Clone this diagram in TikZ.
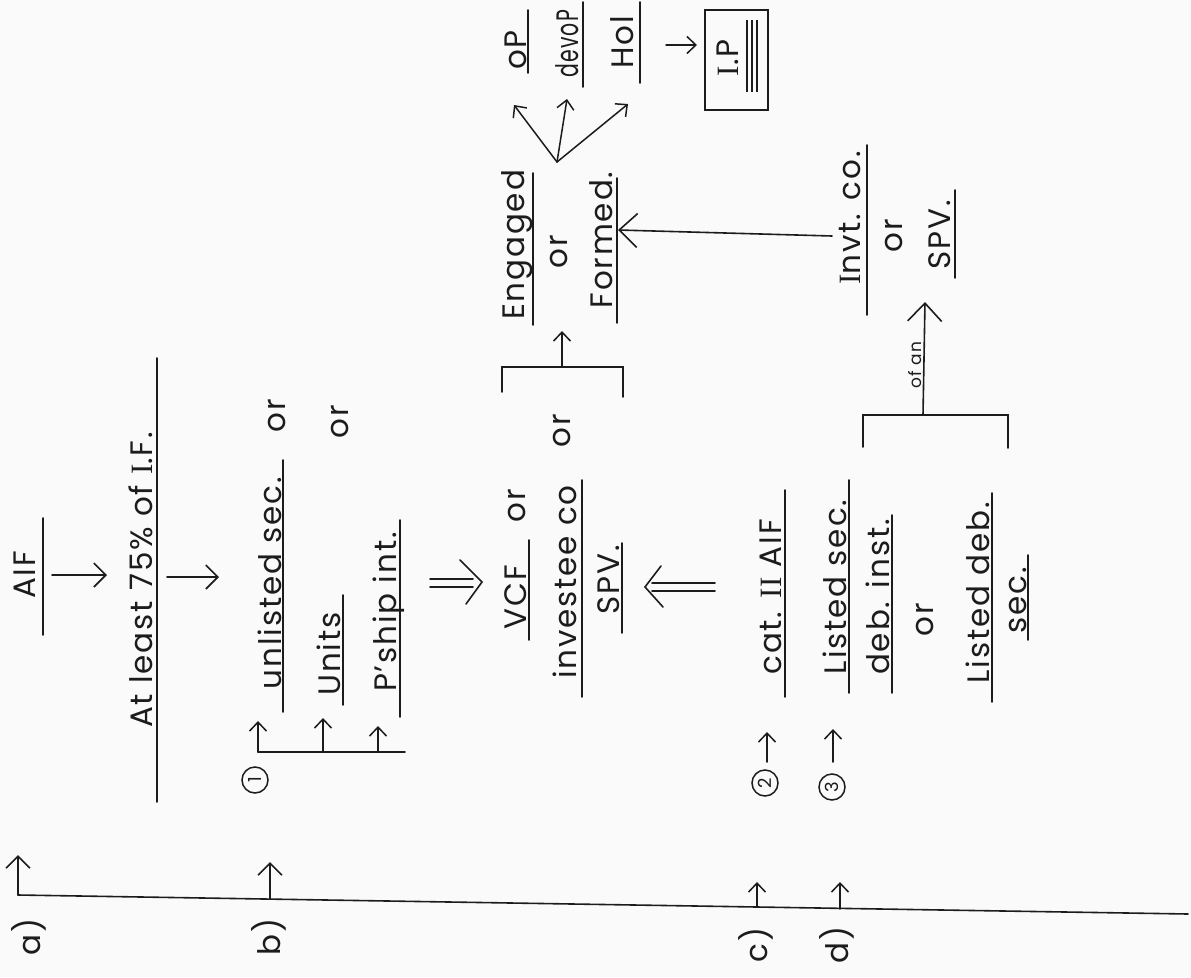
\documentclass[tikz,border=0pt]{standalone}
\usepackage{fontspec}
\setmainfont{Poppins}[LetterSpace=6]
\newfontfamily\serifI{Liberation Serif}
\usetikzlibrary{arrows.meta}
\definecolor{ink}{HTML}{1C1C1C}
\definecolor{paper}{HTML}{FAFAFA}
\tikzset{
  hw/.style={rotate=90, anchor=base, inner sep=1pt, text=ink, font=\fontsize{31}{34}\selectfont},
  hwsmall/.style={hw, font=\fontsize{17}{19}\selectfont},
  ul/.style={draw=ink, line width=1.6pt, line cap=round},
  arr/.style={draw=ink, line width=1.6pt, line cap=round, -{Straight Barb[length=12pt,width=24pt,line width=1.6pt]}},
  sarr/.style={draw=ink, line width=1.5pt, line cap=round, -{Straight Barb[length=9pt,width=17pt,line width=1.5pt]}},
  barr/.style={draw=ink, line width=1.6pt, line cap=round, -{Straight Barb[length=18pt,width=34pt,line width=1.6pt]}},
  circnum/.style={circle, draw=ink, line width=1.5pt, inner sep=0pt, minimum size=26pt, rotate=90, text=ink, font=\fontsize{18}{18}\selectfont},
}
\begin{document}
\begin{tikzpicture}[x=1pt,y=-1pt]
\fill[paper] (0,0) rectangle (1191,977);
\useasboundingbox (0,0) rectangle (1191,977);

% ---------- text nodes ----------
\node[hw] (aif)   at (35,575)  {AIF};
\node[hw] (atl)   at (152,580) {At least 75\% of {\serifI I}.F.};
\node[hw] (unl)   at (281,583) {unlisted sec.};
\node[hw] (or1)   at (285,416) {or};
\node[hw] (units) at (340,654) {Units};
\node[hw] (or2)   at (348,422) {or};
\node[hw] (pship) at (396,612) {P'ship int.};
\node[hw] (vcf)   at (526,597) {VCF};
\node[hw] (vcfor) at (525,506) {or};
\node[hw] (inv)   at (576,582) {investee co};
\node[hw] (invor) at (570,431) {or};
\node[hw] (spv)   at (619,580) {SPV.};
\node[hw] (cat)   at (781,597) {cat. {\serifI II} AIF};
\node[hw] (ls)    at (846,587) {Listed sec.};
\node[hw] (deb)   at (889,597) {deb. inst.};
\node[hw] (or3)   at (933,620) {or};
\node[hw] (ld)    at (989,593) {Listed deb.};
\node[hw] (sec)   at (1026,600) {sec.};
\node[hw] (invt)  at (860,218) {{\serifI I}nvt. co.};
\node[hw] (or4)   at (902,236) {or};
\node[hw] (spvb)  at (950,235) {SPV.};
\node[hw] (eng)   at (524,245) {Engaged};
\node[hw] (or5)   at (567,252) {or};
\node[hw] (frm)   at (612,240) {Formed.};
\node[hw] (op)    at (526,50)  {oP};
\node[hw] (devop) at (578,44)  {\scalebox{0.66}[1]{devoP}};
\node[hw] (hol)   at (633,42)  {Hol};
\node[hw] (ip)    at (738,58)  {{\serifI I}.P};
\node[hwsmall] (ofan) at (921,365) {of an};
\node[hw] (la) at (40,937)  {a)};
\node[hw] (lb) at (280,937) {b)};
\node[hw] (lc) at (767,945) {c)};
\node[hw] (ld2) at (848,945) {d)};
\node[circnum] (c1) at (255,780) {1};
\node[circnum] (c2) at (765,783) {2};
\node[circnum] (c3) at (832,787) {3};

% ---------- underlines ----------
\draw[ul] (43,518) -- (43,635);
\draw[ul] (157,358) -- (157,802);
\draw[ul] (283,460) -- (283,712);
\draw[ul] (343,595) -- (343,705);
\draw[ul] (400,520) -- (400,717);
\draw[ul] (529,540) -- (529,640);
\draw[ul] (582,480) -- (582,697);
\draw[ul] (622,543) -- (622,633);
\draw[ul] (785,490) -- (785,697);
\draw[ul] (849,480) -- (849,693);
\draw[ul] (892,515) -- (892,693);
\draw[ul] (992,493) -- (992,702);
\draw[ul] (1028,555) -- (1028,640);
\draw[ul] (867,145) -- (867,315);
\draw[ul] (955,190) -- (955,278);
\draw[ul] (533,173) -- (533,325);
\draw[ul] (617,178) -- (617,323);
\draw[ul] (528,10) -- (528,73);
\draw[ul] (583,2) -- (583,87);
\draw[ul] (640,2) -- (640,83);

% ---------- coordinates ----------
\coordinate (t0) at (18,895);
\coordinate (t1) at (1188,914);
\coordinate (ta) at (18,855);
\coordinate (bb) at (270,899);
\coordinate (tb) at (270,862);
\coordinate (cc) at (757,907);
\coordinate (tc) at (757,882);
\coordinate (dd) at (840,909);
\coordinate (td) at (840,882);

\coordinate (a1) at (52,575);  \coordinate (a2) at (107,575);
\coordinate (a3) at (167,577); \coordinate (a4) at (219,577);

\coordinate (br1) at (258,752); \coordinate (br2) at (323,752);
\coordinate (br3) at (378,752); \coordinate (br4) at (405,752);
\coordinate (tp1) at (258,721); \coordinate (tp2) at (323,718);
\coordinate (tp3) at (378,726);

\coordinate (v1) at (502,392); \coordinate (v2) at (502,367);
\coordinate (v3) at (623,367); \coordinate (v4) at (623,397);
\coordinate (vm) at (562,367); \coordinate (vt) at (562,331);

\coordinate (fk) at (557,162);
\coordinate (f1) at (514,105); \coordinate (f2) at (567,99); \coordinate (f3) at (628,104);
\coordinate (h1) at (666,45); \coordinate (h2) at (697,45);

\coordinate (iv) at (832,236); \coordinate (ft) at (618,230);

\coordinate (q1) at (863,447); \coordinate (q2) at (863,415);
\coordinate (q3) at (1008,415); \coordinate (q4) at (1008,448);
\coordinate (qm) at (923,415); \coordinate (qt) at (925,302);

\coordinate (c2s) at (767,762); \coordinate (c2t) at (767,732);
\coordinate (c3s) at (833,762); \coordinate (c3t) at (833,729);

% ---------- main line and side arrows ----------
\draw[ul] (t0) -- (t1);
\draw[arr] (t0) -- (ta);
\draw[arr] (bb) -- (tb);
\draw[sarr] (cc) -- (tc);
\draw[sarr] (dd) -- (td);

% ---------- flow arrows ----------
\draw[arr] (a1) -- (a2);
\draw[arr] (a3) -- (a4);

\draw[ul] (br1) -- (br4);
\draw[sarr] (br1) -- (tp1);
\draw[sarr] (br2) -- (tp2);
\draw[sarr] (br3) -- (tp3);

% double arrow towards VCF
\draw[ul] (430,579) -- (473,579);
\draw[ul] (430,587) -- (473,587);
\draw[ul] (460,560) -- (482,582) -- (466,604);
% double arrow from cat II
\draw[ul] (652,583) -- (715,583);
\draw[ul] (652,591) -- (715,591);
\draw[ul] (661,566) -- (645,587) -- (663,607);

\draw[ul] (v1) -- (v2) -- (v3) -- (v4);
\draw[sarr] (vm) -- (vt);

\draw[sarr] (fk) -- (f1);
\draw[sarr] (fk) -- (f2);
\draw[sarr] (fk) -- (f3);
\draw[sarr] (h1) -- (h2);

\draw[barr] (iv) -- (ft);

\draw[ul] (q1) -- (q2) -- (q3) -- (q4);
\draw[barr] (qm) -- (qt);

\draw[sarr] (c2s) -- (c2t);
\draw[sarr] (c3s) -- (c3t);

% ---------- I.P box ----------
\draw[ul] (705,10) rectangle (768,110);
\draw[draw=ink, line width=1.2pt] (747,20) -- (747,92);
\draw[draw=ink, line width=1.2pt] (752,20) -- (752,92);
\draw[draw=ink, line width=1.2pt] (757,20) -- (757,92);
\end{tikzpicture}
\end{document}
